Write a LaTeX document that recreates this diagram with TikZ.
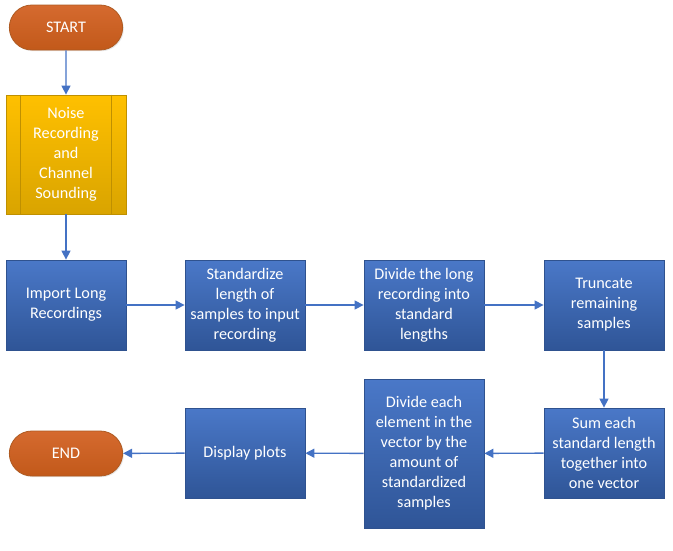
\documentclass[tikz,border=0pt]{standalone}
\usepackage{fontspec}
\setmainfont{Carlito}
\usepackage{xcolor}
\usepackage{tikz}
\usetikzlibrary{calc,arrows.meta,positioning,shapes.misc,shadows}
\definecolor{flowc}{HTML}{4472C4}
\definecolor{boxtop}{HTML}{4A78C8}
\definecolor{boxbot}{HTML}{2F5597}
\definecolor{boxedge}{HTML}{2F528F}
\definecolor{termtop}{HTML}{D56A2F}
\definecolor{termbot}{HTML}{C2591A}
\definecolor{termedge}{HTML}{AE5A21}
\definecolor{goldtop}{HTML}{FFC000}
\definecolor{goldbot}{HTML}{D9A400}
\definecolor{goldedge}{HTML}{BF9000}
\tikzset{
  ar/.style={-{Triangle[length=9pt,width=9pt]},line width=1.4pt,flowc},
  base/.style={text=white,align=center,font=\fontsize{16.2}{20}\selectfont,
    drop shadow={opacity=0.18,shadow xshift=1.2pt,shadow yshift=-1.2pt}},
  procbox/.style={base,draw=boxedge,thick,top color=boxtop,bottom color=boxbot,
    minimum width=120pt,minimum height=90pt,inner sep=2pt},
  termbox/.style={base,rounded rectangle,draw=termedge,thick,top color=termtop,
    bottom color=termbot,minimum width=120pt,minimum height=45pt},
  predbox/.style={base,draw=goldedge,thick,top color=goldtop,bottom color=goldbot,
    minimum width=120pt,minimum height=119pt}
}
\begin{document}
\begin{tikzpicture}[x=1pt,y=-1pt]
\useasboundingbox (0,0) rectangle (673,550);
% top column
\node[termbox] (start) at (66,27.5) {START};
\node[predbox] (noise) at (66,154.5) {Noise\\Recording\\and\\Channel\\Sounding};
\draw[goldedge,thick] ($(noise.north west)+(15,0)$) -- ($(noise.south west)+(15,0)$);
\draw[goldedge,thick] ($(noise.north east)+(-15,0)$) -- ($(noise.south east)+(-15,0)$);
% first row
\node[procbox] (import) at (66,305) {Import Long\\Recordings};
\node[procbox] (stdlen) at (245,305) {Standardize\\length of\\samples to input\\recording};
\node[procbox] (divide) at (424,305) {Divide the long\\recording into\\standard\\lengths};
\node[procbox] (trunc) at (604,305) {Truncate\\remaining\\samples};
% second row
\node[procbox] (sumvec) at (604,453) {Sum each\\standard length\\together into\\one vector};
\node[procbox,minimum height=149pt] (divelem) at (424,453.5) {Divide each\\element in the\\vector by the\\amount of\\standardized\\samples};
\node[procbox] (plots) at (245,453) {Display plots};
\node[termbox] (finish) at (66,453.5) {END};
% connectors
\draw[ar] (start) -- (noise);
\draw[ar] (noise) -- (import);
\draw[ar] (import) -- (stdlen);
\draw[ar] (stdlen) -- (divide);
\draw[ar] (divide) -- (trunc);
\draw[ar] (trunc) -- (sumvec);
\draw[ar] (sumvec) -- (divelem);
\draw[ar] (divelem) -- (plots);
\draw[ar] (plots) -- (finish);
\end{tikzpicture}
\end{document}
